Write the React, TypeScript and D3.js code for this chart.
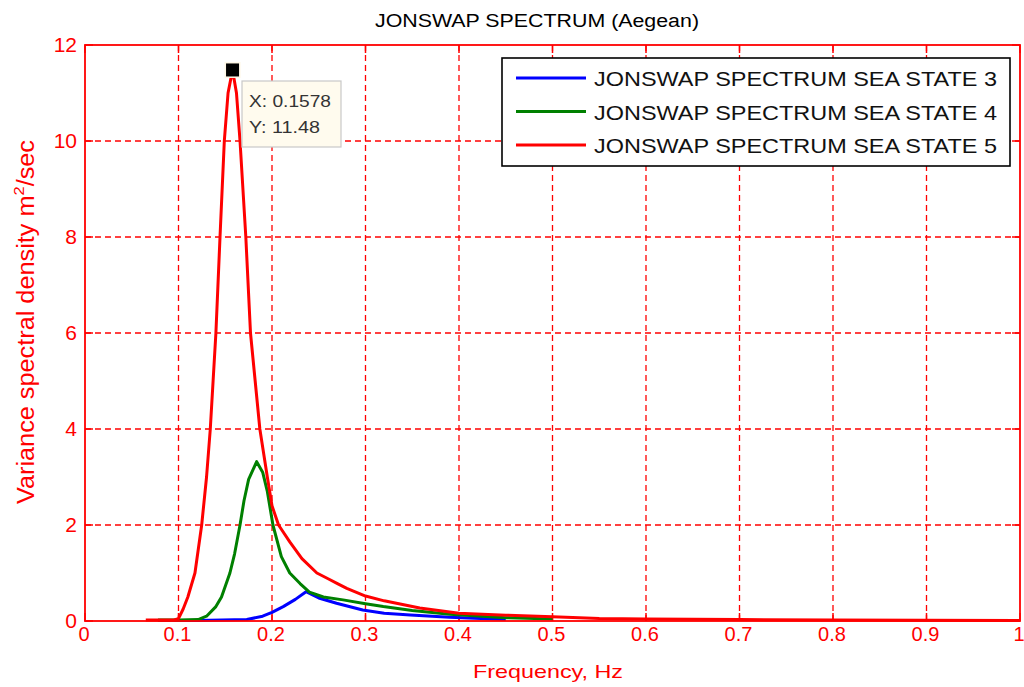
import React from "react";
import * as d3 from "d3";

// values
const xTicks = [0, 0.1, 0.2, 0.3, 0.4, 0.5, 0.6, 0.7, 0.8, 0.9, 1];
const yTicks = [0, 2, 4, 6, 8, 10, 12];

const seaState3Freq = [0.078, 0.12, 0.173, 0.19, 0.2, 0.212, 0.225, 0.2364, 0.25, 0.269, 0.297, 0.32, 0.348, 0.39, 0.45];
const seaState3Val = [0.01, 0.01, 0.03, 0.1, 0.18, 0.3, 0.45, 0.61, 0.48, 0.37, 0.23, 0.16, 0.125, 0.08, 0.03];

const seaState4Freq = [0.078, 0.1, 0.121, 0.13, 0.14, 0.146, 0.155, 0.16, 0.1658, 0.17, 0.175, 0.1836, 0.19, 0.195, 0.201, 0.21, 0.219, 0.23, 0.24, 0.255, 0.276, 0.3, 0.319, 0.35, 0.39, 0.45, 0.5];
const seaState4Val = [0.02, 0.02, 0.03, 0.1, 0.3, 0.5, 1.0, 1.4, 2.0, 2.5, 2.95, 3.32, 3.1, 2.7, 2.0, 1.34, 1.0, 0.78, 0.6, 0.5, 0.44, 0.36, 0.3, 0.22, 0.14, 0.07, 0.04];

const seaState5Freq = [0.065, 0.08, 0.095, 0.1, 0.105, 0.11, 0.1176, 0.1248, 0.13, 0.134, 0.137, 0.14, 0.1444, 0.149, 0.153, 0.1578, 0.162, 0.1658, 0.172, 0.177, 0.182, 0.187, 0.195, 0.2, 0.207, 0.219, 0.232, 0.248, 0.26, 0.27, 0.28, 0.3, 0.32, 0.358, 0.4, 0.45, 0.5, 0.55, 0.6, 0.7, 0.8, 1.0];
const seaState5Val = [0.02, 0.02, 0.02, 0.05, 0.25, 0.5, 1.0, 2.0, 3.0, 4.0, 5.0, 6.0, 8.0, 10.0, 11.0, 11.48, 11.0, 10.0, 8.0, 6.0, 5.0, 4.0, 3.0, 2.4, 2.0, 1.65, 1.3, 1.0, 0.88, 0.78, 0.68, 0.52, 0.42, 0.27, 0.16, 0.12, 0.09, 0.05, 0.04, 0.03, 0.02, 0.01];

const seriesNames = [
  "JONSWAP SPECTRUM SEA STATE 3",
  "JONSWAP SPECTRUM SEA STATE 4",
  "JONSWAP SPECTRUM SEA STATE 5",
];
const seriesColors = ["#0000ff", "#008000", "#ff0000"];

const peakFreq = 0.1578;
const peakVal = 11.48;

export default function App() {
  const width = 1024;
  const height = 687;
  const margin = { top: 45, right: 4, bottom: 66, left: 85 };

  const x = d3.scaleLinear().domain([0, 1]).range([margin.left, width - margin.right]);
  const y = d3.scaleLinear().domain([0, 12]).range([height - margin.bottom, margin.top]);

  const line = d3
    .line<[number, number]>()
    .x((d) => x(d[0]))
    .y((d) => y(d[1]));

  const series = [
    seaState3Freq.map((f, i) => [f, seaState3Val[i]] as [number, number]),
    seaState4Freq.map((f, i) => [f, seaState4Val[i]] as [number, number]),
    seaState5Freq.map((f, i) => [f, seaState5Val[i]] as [number, number]),
  ];

  const x0 = x(0);
  const x1 = x(1);
  const y0 = y(0);
  const y1 = y(12);
  const red = "#ff0000";
  const font = "Arial, 'Liberation Sans', sans-serif";

  const px = x(peakFreq);
  const py = y(peakVal);

  return (
    <svg
      width={width}
      height={height}
      style={{ position: "absolute", left: 0, top: 0, background: "#fff" }}
      fontFamily={font}
    >
      <rect x={0} y={0} width={width} height={height} fill="#fff" />

      {/* grid */}
      {xTicks.slice(1, -1).map((t) => (
        <line key={"gx" + t} x1={x(t)} x2={x(t)} y1={y1} y2={y0} stroke={red} strokeWidth={1.3} strokeDasharray="6,4" />
      ))}
      {yTicks.slice(1, -1).map((t) => (
        <line key={"gy" + t} x1={x0} x2={x1} y1={y(t)} y2={y(t)} stroke={red} strokeWidth={1.3} strokeDasharray="6,4" />
      ))}

      {/* tick marks */}
      {xTicks.map((t) => (
        <g key={"tx" + t}>
          <line x1={x(t)} x2={x(t)} y1={y0} y2={y0 - 8} stroke={red} strokeWidth={1.5} />
          <line x1={x(t)} x2={x(t)} y1={y1} y2={y1 + 8} stroke={red} strokeWidth={1.5} />
        </g>
      ))}
      {yTicks.map((t) => (
        <g key={"ty" + t}>
          <line x1={x0} x2={x0 + 8} y1={y(t)} y2={y(t)} stroke={red} strokeWidth={1.5} />
          <line x1={x1} x2={x1 - 8} y1={y(t)} y2={y(t)} stroke={red} strokeWidth={1.5} />
        </g>
      ))}

      {/* curves */}
      {series.map((s, i) => (
        <path key={"s" + i} d={line(s) || ""} fill="none" stroke={seriesColors[i]} strokeWidth={3} strokeLinejoin="round" />
      ))}

      {/* axes frame */}
      <rect x={x0} y={y1} width={x1 - x0} height={y0 - y1} fill="none" stroke={red} strokeWidth={1.8} />

      {/* tick labels */}
      {xTicks.map((t) => (
        <text key={"lx" + t} x={x(t) - 1} y={y0 + 20} textAnchor="middle" fontSize={20} fill={red}>
          {d3.format("~g")(t)}
        </text>
      ))}
      {yTicks.map((t) => (
        <text key={"ly" + t} x={x0 - 8} y={y(t) + 7} textAnchor="end" fontSize={21} fill={red}>
          {t}
        </text>
      ))}

      {/* title and axis labels */}
      <text x={537} y={27} textAnchor="middle" fontSize={18} fill="#000" textLength={324} lengthAdjust="spacingAndGlyphs">
        JONSWAP SPECTRUM (Aegean)
      </text>
      <text x={548} y={678} textAnchor="middle" fontSize={19} fill={red} textLength={150} lengthAdjust="spacingAndGlyphs">
        Frequency, Hz
      </text>
      <text
        transform={`translate(34, 322) rotate(-90)`}
        textAnchor="middle"
        fontSize={23}
        fill={red}
        textLength={364}
        lengthAdjust="spacingAndGlyphs"
      >
        Variance spectral density m
        <tspan fontSize={15} dy={-10}>2</tspan>
        <tspan dy={10}>/sec</tspan>
      </text>

      {/* legend */}
      <rect x={502} y={58} width={508} height={108} fill="#fff" stroke="#000" strokeWidth={1.6} />
      {seriesNames.map((n, i) => (
        <g key={"lg" + i}>
          <line x1={516} x2={586} y1={78 + i * 33.5} y2={78 + i * 33.5} stroke={seriesColors[i]} strokeWidth={3} />
          <text x={594} y={86 + i * 33.5} fontSize={21} fill="#111" textLength={403} lengthAdjust="spacingAndGlyphs">
            {n}
          </text>
        </g>
      ))}

      {/* data tip */}
      <rect x={px - 8} y={py - 8} width={16} height={16} fill="#fff8e8" />
      <rect x={px - 6.5} y={py - 6.5} width={13} height={13} fill="#000" />
      <rect x={242} y={81} width={99} height={66} fill="#fffbee" stroke="#c8c8c8" strokeWidth={1.2} />
      <text x={249} y={107} fontSize={17} fill="#333" textLength={82} lengthAdjust="spacingAndGlyphs">
        X: {d3.format(".4f")(peakFreq)}
      </text>
      <text x={249} y={133} fontSize={17} fill="#333" textLength={71} lengthAdjust="spacingAndGlyphs">
        Y: {d3.format(".2f")(peakVal)}
      </text>
    </svg>
  );
}
